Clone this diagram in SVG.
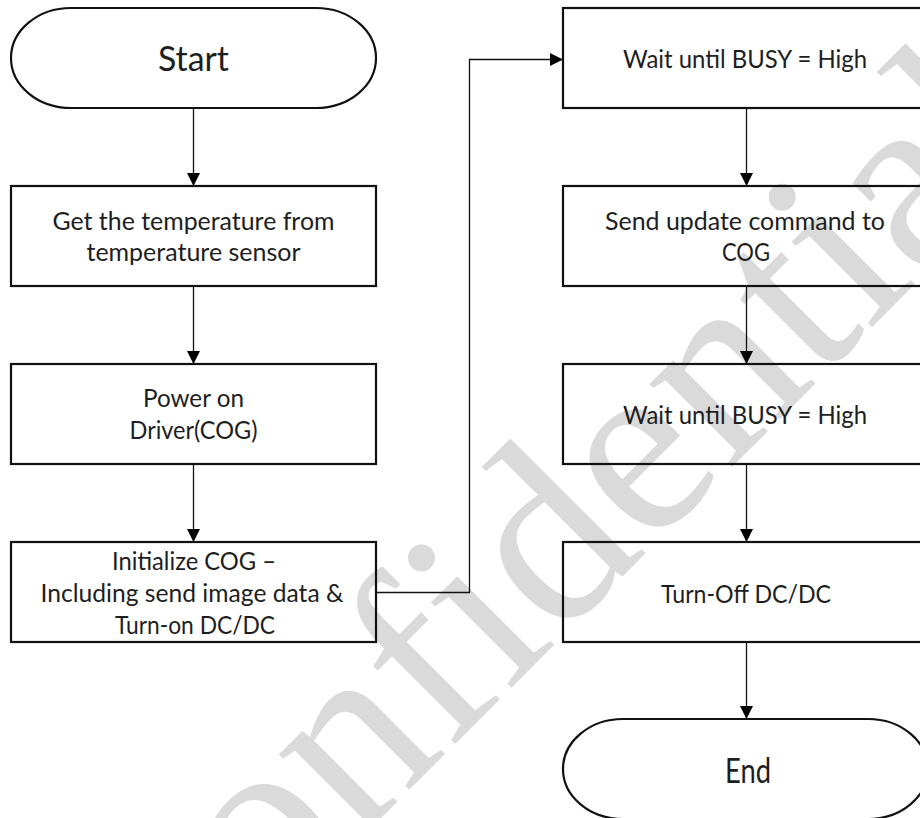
<svg xmlns="http://www.w3.org/2000/svg" width="920" height="818" viewBox="0 0 920 818">
  <defs>
    <marker id="arrow" viewBox="0 0 13 13" refX="13" refY="6.5" markerWidth="13" markerHeight="13" markerUnits="userSpaceOnUse" orient="auto">
      <path d="M0,0 L13,6.5 L0,13 Z" fill="#000"/>
    </marker>
    <style>
      .shape { fill: none; stroke: #111; stroke-width: 2.2; }
      .label { font-family: Lato, "Liberation Sans", sans-serif; font-size: 25px; fill: #1e1e1e; text-anchor: middle; }
      .big { font-size: 34px; }
      .wire { fill: none; stroke: #111; stroke-width: 1.3; marker-end: url(#arrow); }
      .mark { font-family: "Liberation Serif", serif; font-size: 255px; fill: #dadada; }
    </style>
  </defs>

  <rect width="920" height="818" fill="#fff"/>

  <!-- background watermark -->
  <text class="mark" x="147" y="1052" transform="rotate(-45 147 1052)">Confidential</text>

  <!-- connectors -->
  <g id="connectors">
    <path class="wire" d="M193.5,108 V186"/>
    <path class="wire" d="M193.5,286 V364"/>
    <path class="wire" d="M193.5,464 V542"/>
    <path class="wire" d="M376,592.5 H469.5 V59.5 H563"/>
    <path class="wire" d="M746.5,108 V186"/>
    <path class="wire" d="M746.5,286 V364"/>
    <path class="wire" d="M746.5,464 V542"/>
    <path class="wire" d="M746.5,642 V719"/>
  </g>

  <!-- left column -->
  <g id="start">
    <rect class="shape" x="11" y="8" width="365" height="100" rx="60" ry="50"/>
    <text class="label big" x="193.5" y="71" textLength="71" lengthAdjust="spacingAndGlyphs">Start</text>
  </g>
  <g id="get-temperature">
    <rect class="shape" x="11" y="186" width="365" height="100"/>
    <text class="label" x="193.5" y="230" textLength="282" lengthAdjust="spacingAndGlyphs">Get the temperature from</text>
    <text class="label" x="193.5" y="261" textLength="214" lengthAdjust="spacingAndGlyphs">temperature sensor</text>
  </g>
  <g id="power-on">
    <rect class="shape" x="11" y="364" width="365" height="100"/>
    <text class="label" x="193.5" y="407" textLength="101" lengthAdjust="spacingAndGlyphs">Power on</text>
    <text class="label" x="193.5" y="439" textLength="128" lengthAdjust="spacingAndGlyphs">Driver(COG)</text>
  </g>
  <g id="initialize-cog">
    <rect class="shape" x="11" y="542" width="365" height="100"/>
    <text class="label" x="194" y="570" textLength="164" lengthAdjust="spacingAndGlyphs">Initialize COG –</text>
    <text class="label" x="192" y="602" textLength="303" lengthAdjust="spacingAndGlyphs">Including send image data &amp;</text>
    <text class="label" x="195" y="634" textLength="160" lengthAdjust="spacingAndGlyphs">Turn-on DC/DC</text>
  </g>

  <!-- right column -->
  <g id="wait-busy-1">
    <rect class="shape" x="563" y="8" width="365" height="100"/>
    <text class="label" x="745" y="68" textLength="244" lengthAdjust="spacingAndGlyphs">Wait until BUSY = High</text>
  </g>
  <g id="send-update">
    <rect class="shape" x="563" y="186" width="365" height="100"/>
    <text class="label" x="745" y="230" textLength="280" lengthAdjust="spacingAndGlyphs">Send update command to</text>
    <text class="label" x="746" y="261" textLength="48" lengthAdjust="spacingAndGlyphs">COG</text>
  </g>
  <g id="wait-busy-2">
    <rect class="shape" x="563" y="364" width="365" height="100"/>
    <text class="label" x="745" y="424" textLength="244" lengthAdjust="spacingAndGlyphs">Wait until BUSY = High</text>
  </g>
  <g id="turn-off">
    <rect class="shape" x="563" y="542" width="365" height="100"/>
    <text class="label" x="746" y="603" textLength="170" lengthAdjust="spacingAndGlyphs">Turn-Off DC/DC</text>
  </g>
  <g id="end">
    <rect class="shape" x="563" y="719" width="365" height="100" rx="60" ry="50"/>
    <text class="label big" x="748" y="783" textLength="46" lengthAdjust="spacingAndGlyphs">End</text>
  </g>
</svg>
